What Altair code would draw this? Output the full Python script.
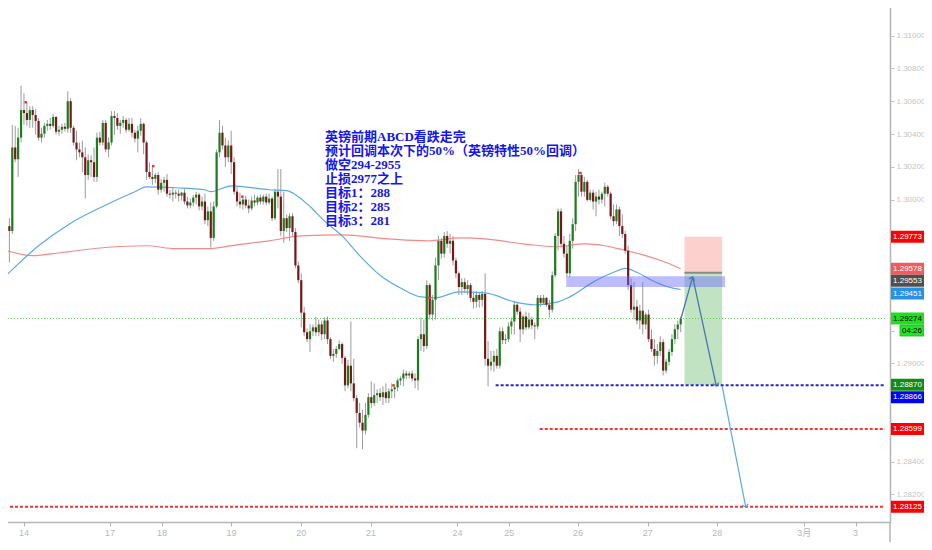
import altair as alt
import pandas as pd

# ---------------- data (GBPUSD, 1h candles) ----------------
opens = [
1.29748,1.29838,1.29808,1.30318,1.30246,1.30378,1.30546,1.30528,1.30486,1.30546,
1.30516,1.30480,1.30378,1.30402,1.30450,1.30462,1.30450,1.30504,1.30414,1.30426,
1.30444,1.30432,1.30600,1.30438,1.30348,1.30306,1.30288,1.30258,1.30150,1.30240,
1.30228,1.30138,1.30378,1.30348,1.30468,1.30306,1.30348,1.30510,1.30498,1.30450,
1.30468,1.30486,1.30426,1.30462,1.30408,1.30372,1.30420,1.30462,1.30348,1.30168,
1.30138,1.30126,1.30150,1.30060,1.30102,1.30120,1.30036,1.30030,1.30042,1.30036,
1.30024,1.30042,1.29988,1.29964,1.29982,1.30012,1.30030,1.29958,1.29988,1.29874,
1.29928,1.29766,1.29958,1.30288,1.30408,1.30330,1.30258,1.30330,1.30228,1.30048,
1.29988,1.29970,1.30000,1.29964,1.29946,1.29994,1.29982,1.30012,1.29988,1.30018,
1.29982,1.30006,1.29886,1.30048,1.30018,1.29808,1.29886,1.29826,1.29898,1.29802,
1.29598,1.29508,1.29310,1.29190,1.29148,1.29196,1.29220,1.29190,1.29238,1.29178,
1.29262,1.29148,1.29046,1.29058,1.29088,1.29118,1.29034,1.28866,1.28986,1.28878,
1.28788,1.28698,1.28638,1.28590,1.28686,1.28794,1.28758,1.28806,1.28818,1.28794,
1.28824,1.28788,1.28830,1.28842,1.28854,1.28896,1.28908,1.28938,1.28926,1.28938,
1.28908,1.28896,1.29148,1.29178,1.29106,1.29478,1.29298,1.29388,1.29598,1.29748,
1.29670,1.29778,1.29730,1.29748,1.29628,1.29550,1.29466,1.29496,1.29454,1.29478,
1.29400,1.29376,1.29418,1.29388,1.29424,1.29028,1.28986,1.29010,1.29046,1.28986,
1.29196,1.29142,1.29148,1.29226,1.29256,1.29358,1.29316,1.29208,1.29286,1.29220,
1.29268,1.29232,1.29226,1.29400,1.29370,1.29400,1.29358,1.29328,1.29538,1.29778,
1.29928,1.29730,1.29670,1.29550,1.29748,1.29850,1.30108,1.30150,1.30048,1.30108,
1.29998,1.30042,1.29988,1.30018,1.30000,1.30036,1.30078,1.30036,1.29898,1.29868,
1.29940,1.29838,1.29790,1.29688,1.29478,1.29328,1.29346,1.29262,1.29322,1.29238,
1.29298,1.29148,1.29088,1.29046,1.29076,1.29130,1.28956,1.29010,1.29070,1.29148,
1.29208,1.29238]

highs = [
1.29898,1.29886,1.30456,1.30450,1.30438,1.30696,1.30648,1.30594,1.30570,1.30570,
1.30552,1.30498,1.30438,1.30468,1.30486,1.30498,1.30522,1.30510,1.30450,1.30462,
1.30468,1.30660,1.30618,1.30450,1.30420,1.30348,1.30360,1.30318,1.30276,1.30270,
1.30318,1.30408,1.30414,1.30486,1.30486,1.30378,1.30540,1.30540,1.30528,1.30486,
1.30510,1.30498,1.30498,1.30498,1.30426,1.30450,1.30498,1.30468,1.30360,1.30228,
1.30198,1.30162,1.30168,1.30126,1.30138,1.30156,1.30060,1.30078,1.30060,1.30060,
1.30048,1.30066,1.30018,1.30006,1.30030,1.30048,1.30042,1.30018,1.30036,1.29958,
1.29982,1.29988,1.30306,1.30486,1.30450,1.30378,1.30360,1.30420,1.30258,1.30078,
1.30042,1.30018,1.30024,1.30000,1.30018,1.30030,1.30024,1.30030,1.30030,1.30036,
1.30036,1.30018,1.30066,1.30186,1.30186,1.30048,1.29910,1.29916,1.29916,1.29826,
1.29622,1.29550,1.29346,1.29214,1.29238,1.29238,1.29286,1.29268,1.29262,1.29280,
1.29286,1.29160,1.29088,1.29106,1.29142,1.29130,1.29046,1.29022,1.29256,1.29028,
1.28806,1.28758,1.28716,1.28758,1.28818,1.28890,1.28878,1.28842,1.28848,1.28860,
1.28878,1.28848,1.28878,1.28866,1.28908,1.28920,1.28962,1.28956,1.28950,1.28956,
1.28938,1.29166,1.29280,1.29268,1.29508,1.29490,1.29418,1.29646,1.29778,1.29766,
1.29802,1.29808,1.29790,1.29778,1.29646,1.29562,1.29520,1.29520,1.29508,1.29490,
1.29430,1.29442,1.29436,1.29442,1.29550,1.29136,1.29076,1.29076,1.29088,1.29220,
1.29220,1.29178,1.29250,1.29280,1.29382,1.29370,1.29340,1.29298,1.29316,1.29310,
1.29286,1.29250,1.29418,1.29418,1.29418,1.29406,1.29388,1.29562,1.29796,1.29946,
1.29946,1.29778,1.29718,1.29790,1.29886,1.30150,1.30186,1.30168,1.30138,1.30120,
1.30060,1.30060,1.30048,1.30060,1.30048,1.30102,1.30090,1.30048,1.29970,1.29970,
1.29958,1.29910,1.29808,1.29718,1.29520,1.29496,1.29388,1.29358,1.29496,1.29310,
1.29328,1.29208,1.29148,1.29118,1.29166,1.29148,1.29028,1.29088,1.29178,1.29238,
1.29262,1.29286]

lows = [
1.29628,1.29616,1.29790,1.30228,1.30138,1.30348,1.30456,1.30450,1.30438,1.30438,
1.30396,1.30360,1.30348,1.30378,1.30420,1.30426,1.30438,1.30396,1.30390,1.30402,
1.30414,1.30408,1.30408,1.30330,1.30240,1.30258,1.30168,1.30006,1.30120,1.30138,
1.30108,1.30108,1.30330,1.30330,1.30288,1.30258,1.30330,1.30396,1.30426,1.30402,
1.30438,1.30408,1.30414,1.30378,1.30348,1.30288,1.30390,1.30276,1.30120,1.30126,
1.30090,1.30102,1.30030,1.30042,1.30048,1.30018,1.30006,1.29988,1.30006,1.29988,
1.29994,1.29970,1.29946,1.29946,1.29958,1.29970,1.29934,1.29934,1.29850,1.29838,
1.29706,1.29748,1.29946,1.30258,1.30306,1.30198,1.30228,1.30156,1.30030,1.29958,
1.29946,1.29940,1.29946,1.29916,1.29934,1.29958,1.29964,1.29970,1.29970,1.29964,
1.29970,1.29868,1.29874,1.29946,1.29778,1.29736,1.29802,1.29748,1.29778,1.29580,
1.29490,1.29220,1.29166,1.29130,1.29070,1.29166,1.29166,1.29166,1.29142,1.29148,
1.29118,1.29028,1.29010,1.29034,1.29082,1.28998,1.28830,1.28848,1.28830,1.28770,
1.28482,1.28608,1.28476,1.28566,1.28668,1.28728,1.28740,1.28758,1.28770,1.28746,
1.28758,1.28758,1.28788,1.28788,1.28830,1.28866,1.28860,1.28902,1.28908,1.28890,
1.28848,1.28836,1.29076,1.29070,1.29088,1.29268,1.29262,1.29268,1.29508,1.29640,
1.29646,1.29706,1.29670,1.29598,1.29520,1.29418,1.29418,1.29430,1.29418,1.29376,
1.29334,1.29340,1.29340,1.29346,1.28986,1.28860,1.28956,1.28950,1.28968,1.28968,
1.29118,1.29118,1.29130,1.29178,1.29178,1.29298,1.29130,1.29178,1.29202,1.29208,
1.29208,1.29148,1.29208,1.29346,1.29358,1.29346,1.29280,1.29310,1.29526,1.29688,
1.29706,1.29646,1.29526,1.29526,1.29700,1.29808,1.30018,1.30018,1.30018,1.29988,
1.29988,1.29940,1.29898,1.29970,1.29976,1.29958,1.30018,1.29880,1.29838,1.29850,
1.29778,1.29766,1.29670,1.29448,1.29310,1.29268,1.29238,1.29208,1.29178,1.29208,
1.29130,1.29070,1.28986,1.28998,1.29046,1.28926,1.28938,1.28986,1.29046,1.29118,
1.29148,1.29190]

closes = [
1.29838,1.29808,1.30318,1.30246,1.30378,1.30546,1.30528,1.30486,1.30546,1.30516,
1.30480,1.30378,1.30402,1.30450,1.30462,1.30450,1.30504,1.30414,1.30426,1.30444,
1.30432,1.30600,1.30438,1.30348,1.30306,1.30288,1.30258,1.30150,1.30240,1.30228,
1.30138,1.30378,1.30348,1.30468,1.30306,1.30348,1.30510,1.30498,1.30450,1.30468,
1.30486,1.30426,1.30462,1.30408,1.30372,1.30420,1.30462,1.30348,1.30168,1.30138,
1.30126,1.30150,1.30060,1.30102,1.30120,1.30036,1.30030,1.30042,1.30036,1.30024,
1.30042,1.29988,1.29964,1.29982,1.30012,1.30030,1.29958,1.29988,1.29874,1.29928,
1.29766,1.29958,1.30288,1.30408,1.30330,1.30258,1.30330,1.30228,1.30048,1.29988,
1.29970,1.30000,1.29964,1.29946,1.29994,1.29982,1.30012,1.29988,1.30018,1.29982,
1.30006,1.29886,1.30048,1.30018,1.29808,1.29886,1.29826,1.29898,1.29802,1.29598,
1.29508,1.29310,1.29190,1.29148,1.29196,1.29220,1.29190,1.29238,1.29178,1.29262,
1.29148,1.29046,1.29058,1.29088,1.29118,1.29034,1.28866,1.28986,1.28878,1.28788,
1.28698,1.28638,1.28590,1.28686,1.28794,1.28758,1.28806,1.28818,1.28794,1.28824,
1.28788,1.28830,1.28842,1.28854,1.28896,1.28908,1.28938,1.28926,1.28938,1.28908,
1.28896,1.29148,1.29178,1.29106,1.29478,1.29298,1.29388,1.29598,1.29748,1.29670,
1.29778,1.29730,1.29748,1.29628,1.29550,1.29466,1.29496,1.29454,1.29478,1.29400,
1.29376,1.29418,1.29388,1.29424,1.29028,1.28986,1.29010,1.29046,1.28986,1.29196,
1.29142,1.29148,1.29226,1.29256,1.29358,1.29316,1.29208,1.29286,1.29220,1.29268,
1.29232,1.29226,1.29400,1.29370,1.29400,1.29358,1.29328,1.29538,1.29778,1.29928,
1.29730,1.29670,1.29550,1.29748,1.29850,1.30108,1.30150,1.30048,1.30108,1.29998,
1.30042,1.29988,1.30018,1.30000,1.30036,1.30078,1.30036,1.29898,1.29868,1.29940,
1.29838,1.29790,1.29688,1.29478,1.29328,1.29346,1.29262,1.29322,1.29238,1.29298,
1.29148,1.29088,1.29046,1.29076,1.29130,1.28956,1.29010,1.29070,1.29148,1.29208,
1.29238,1.29274]

# moving averages (sampled along the bar index)
ma_blue_idx = [0,11,22,33,44,48,58,68,70,77,90,96,99,104,109,115,121,128,135,142,
               147,155,164,174,181,189,193,201,208,212,216,221,227,231]
ma_blue_val = [1.29538,1.29718,1.29856,1.29958,1.30048,1.30078,1.30072,1.30060,1.30048,1.30084,
               1.30060,1.30054,1.30030,1.29958,1.29868,1.29778,1.29658,1.29538,1.29460,1.29406,
               1.29400,1.29436,1.29430,1.29376,1.29358,1.29376,1.29406,1.29496,1.29556,1.29580,
               1.29556,1.29508,1.29466,1.29451]
ma_red_idx = [0,9,16,33,48,58,69,79,90,101,115,131,144,156,164,177,188,198,205,211,219,226,231]
ma_red_val = [1.29688,1.29658,1.29670,1.29706,1.29718,1.29700,1.29700,1.29724,1.29748,1.29778,
              1.29784,1.29760,1.29748,1.29766,1.29760,1.29730,1.29712,1.29730,1.29718,1.29694,
              1.29658,1.29616,1.29578]

# date axis
date_labels = ["14", "17", "18", "19", "20", "21", "24", "25", "26", "27", "28", "3月", "3"]
date_pos = [6, 35.5, 53.3, 77.1, 101, 124.9, 154.5, 172.3, 195.8, 219.7, 243.5, 273.3, 290.9]

# price axis ticks (labels covered by the price tags are left blank)
price_ticks = [1.282, 1.284, 1.286, 1.288, 1.290, 1.292, 1.294, 1.296, 1.298,
               1.300, 1.302, 1.304, 1.306, 1.308, 1.310, 1.312]
hidden_tick_labels = ["1.28600", "1.28800", "1.29200", "1.29400", "1.29600", "1.29800", "1.31200"]

# price tags on the right scale
tag_prices = [1.29773, 1.29578, 1.29553, 1.29451, 1.29274, 1.28870, 1.28866, 1.28599, 1.28125]
tag_texts = ["1.29773", "1.29578", "1.29553", "1.29451", "1.29274", "1.28870", "1.28866", "1.28599", "1.28125"]
tag_bg = ["#ff0000", "#f25b5b", "#4f4f4f", "#2592e6", "#1fe01f", "#128c12", "#0000ff", "#ff0000", "#ff0000"]
tag_fg = ["#ffffff", "#ffffff", "#ffffff", "#ffffff", "#000000", "#ffffff", "#ffffff", "#ffffff", "#ffffff"]
tag_nudge = [0, 0, 8, 4, 0, 0, 12, 0, 0]
timer_text = "04:26"
timer_price = 1.29274

# levels / drawings
current_price = 1.29274
stop_loss = 1.29773
entry = 1.29553
take_profit = 1.28870
blue_level = 1.28866
blue_level_from = 167.6
red_level_1 = 1.28599
red_level_1_from = 182.7
red_level_2 = 1.28125
zone_from, zone_to = 191.8, 246.2
zone_low, zone_high = 1.29466, 1.29532
pos_from, pos_to = 232.3, 245.2

arrow1_idx = [231.1, 235.1, 243.2]
arrow1_val = [1.29274, 1.29528, 1.28862]
arrow2_idx = [245.2, 253.3]
arrow2_val = [1.28862, 1.28122]
head_idx = [235.1, 243.2, 253.3]
head_val = [1.29528, 1.28862, 1.28122]
head_angle = [17, 168, 169]
head_color = ["#4a78b0", "#4a78b0", "#57a8e8"]

marker_idx = [6.6, 50.3, 80.8, 132.6, 145.0, 196.5]
marker_val = [1.30594, 1.30204, 1.30018, 1.28866, 1.29400, 1.30162]

note_lines = ["英镑前期ABCD看跌走完",
              "预计回调本次下的50%（英镑特性50%回调）",
              "做空294-2955",
              "止损2977之上",
              "目标1：288",
              "目标2：285",
              "目标3：281"]

# ---------------- chart ----------------
W, H = 890, 522
X_END = 301
XS = alt.Scale(domain=[-0.5, X_END], nice=False, zero=False)
YS = alt.Scale(domain=[1.28032, 1.31218], nice=False, zero=False)
FONT = "Liberation Sans"
GREY = "#c4c4c4"
AXC = "#b5b5b5"

hidden_js = "[" + ",".join("'%s'" % s for s in hidden_tick_labels) + "]"
AX_X = alt.Axis(values=date_pos, labels=False, ticks=True, tickSize=4,
                tickColor=AXC, domainColor=AXC, domainWidth=1.5, grid=False, title=None)
AX_Y = alt.Axis(orient="right", values=price_ticks, format=".5f", grid=False, title=None,
                labelExpr="indexof(%s, datum.label) >= 0 ? '' : datum.label" % hidden_js,
                labelColor=GREY, labelFont=FONT, labelFontSize=8, tickColor=GREY, tickSize=4,
                labelPadding=2, domainColor=AXC, domainWidth=1.5,
                labelFlush=False, labelOverlap=False)

n = len(closes)
assert len(opens) == len(highs) == len(lows) == n
df = pd.DataFrame({"idx": list(range(n)), "o": opens, "h": highs, "l": lows, "c": closes})
df["dir"] = ["up" if c >= o else "down" for o, c in zip(opens, closes)]

def xq(field):
    return alt.X(field, type="quantitative", scale=XS, axis=AX_X)

def yq(field):
    return alt.Y(field, type="quantitative", scale=YS, axis=AX_Y)

wick = alt.Chart(df).mark_rule(color="#9b9b9b", strokeWidth=1).encode(
    x=xq("idx"), y=yq("l"), y2="h:Q")
body = alt.Chart(df).mark_bar(size=2.2).encode(
    x=xq("idx"), y=yq("o"), y2="c:Q",
    color=alt.Color("dir:N", scale=alt.Scale(domain=["up", "down"], range=["#1c7c1c", "#761818"]),
                    legend=None),
)

ma_blue = alt.Chart(pd.DataFrame({"i": ma_blue_idx, "v": ma_blue_val})).mark_line(
    color="#5aaae8", strokeWidth=1.2, interpolate="monotone").encode(x=xq("i"), y=yq("v"))
ma_red = alt.Chart(pd.DataFrame({"i": ma_red_idx, "v": ma_red_val})).mark_line(
    color="#f28a8a", strokeWidth=1.2, interpolate="monotone").encode(x=xq("i"), y=yq("v"))

def hline(price, x0, color, width, dash):
    d = pd.DataFrame({"p": [price], "a": [x0], "b": [X_END]})
    return alt.Chart(d).mark_rule(color=color, strokeWidth=width, strokeDash=dash).encode(
        x=xq("a"), x2="b:Q", y=yq("p"))

def box(x0, x1, p0, p1, color, opacity):
    d = pd.DataFrame({"a": [x0], "b": [x1], "p": [p0], "q": [p1]})
    return alt.Chart(d).mark_rect(color=color, opacity=opacity).encode(
        x=xq("a"), x2="b:Q", y=yq("p"), y2="q:Q")

cur_line = hline(current_price, -0.5, "#5fd35f", 1, [1, 2])
blue_line = hline(blue_level, blue_level_from, "#2323d8", 2, [3, 2])
red_line1 = hline(red_level_1, red_level_1_from, "#f23535", 2, [3, 2])
red_line2 = hline(red_level_2, -0.5, "#f23535", 2, [3, 2])

tp_box = box(pos_from, pos_to, entry, take_profit, "#4caf50", 0.35)
sl_box = box(pos_from, pos_to, stop_loss, entry, "#f44336", 0.25)
zone = box(zone_from, zone_to, zone_low, zone_high, "#6a6aff", 0.45)
entry_line = alt.Chart(pd.DataFrame({"a": [pos_from], "b": [pos_to], "p": [entry]})).mark_rule(
    color="#8a8a8a", strokeWidth=2).encode(x=xq("a"), x2="b:Q", y=yq("p"))

arrow1 = alt.Chart(pd.DataFrame({"i": arrow1_idx, "v": arrow1_val, "k": range(3)})).mark_line(
    color="#4a78b0", strokeWidth=1.3).encode(x=xq("i"), y=yq("v"), order="k:Q")
arrow2 = alt.Chart(pd.DataFrame({"i": arrow2_idx, "v": arrow2_val, "k": range(2)})).mark_line(
    color="#57a8e8", strokeWidth=1.2).encode(x=xq("i"), y=yq("v"), order="k:Q")
heads = alt.Chart(pd.DataFrame({"i": head_idx, "v": head_val, "ang": head_angle, "col": head_color})).mark_point(
    shape="M-1,1L0,0L1,1", filled=False, size=36, strokeWidth=1.2, opacity=1).encode(
    x=xq("i"), y=yq("v"), angle=alt.Angle("ang:Q", scale=None),
    color=alt.Color("col:N", scale=None))

markers = alt.Chart(pd.DataFrame({"i": marker_idx, "v": marker_val})).mark_point(
    shape="square", filled=True, size=6, color="#f03030", opacity=1).encode(x=xq("i"), y=yq("v"))

note = alt.Chart(pd.DataFrame({"a": [0]})).mark_text(
    align="left", baseline="top", fontSize=13, fontWeight="bold",
    font="Liberation Serif, Noto Sans CJK SC", color="#1515ee", lineHeight=14).encode(
    x=alt.value(325), y=alt.value(131), text=alt.value(note_lines))

dates = alt.Chart(pd.DataFrame({"i": date_pos, "t": date_labels})).mark_text(
    fontSize=9, font="Liberation Sans, Noto Sans CJK SC", color="#b8b8b8",
    baseline="middle", align="center").encode(x=xq("i"), y=alt.value(H + 11), text="t:N")

# right scale line continues below the time axis
scale_tail = alt.Chart(pd.DataFrame({"a": [0]})).mark_rule(color=AXC, strokeWidth=1.5).encode(
    x=alt.value(W), y=alt.value(H), y2=alt.value(H + 30))

tags = pd.DataFrame({"p": tag_prices, "txt": tag_texts, "bg": tag_bg, "fg": tag_fg, "n": tag_nudge})
tag_layers = []
for nd in sorted(set(tag_nudge)):
    sub = tags[tags["n"] == nd]
    tag_layers.append(alt.Chart(sub).mark_rect(yOffset=nd - 6, y2Offset=nd + 6).encode(
        x=alt.value(W + 1), x2=alt.value(W + 34), y=yq("p"), y2="p:Q",
        fill=alt.Fill("bg:N", scale=None)))
    tag_layers.append(alt.Chart(sub).mark_text(
        dy=nd, fontSize=8, font=FONT, align="center", baseline="middle").encode(
        x=alt.value(W + 17.5), y=yq("p"), text="txt:N", color=alt.Color("fg:N", scale=None)))

timer_df = pd.DataFrame({"p": [timer_price], "t": [timer_text]})
timer_box = alt.Chart(timer_df).mark_rect(yOffset=12 - 5.5, y2Offset=12 + 5.5, fill="#27e327",
                                          stroke="#14b814", strokeWidth=0.8).encode(
    x=alt.value(W + 10), x2=alt.value(W + 34), y=yq("p"), y2="p:Q")
timer_txt = alt.Chart(timer_df).mark_text(dy=12, fontSize=8, font=FONT, color="#000000",
                                          align="center", baseline="middle").encode(
    x=alt.value(W + 22), y=yq("p"), text="t:N")

chart = alt.layer(
    wick, cur_line, ma_red, ma_blue, body,
    tp_box, sl_box, zone, entry_line,
    blue_line, red_line1, red_line2,
    arrow1, arrow2, heads, markers, note, dates, scale_tail,
    *tag_layers, timer_box, timer_txt,
).properties(
    width=W, height=H,
    padding={"left": -8, "top": -8, "right": 34, "bottom": 20},
    autosize=alt.AutoSizeParams(type="none"),
    background="#ffffff",
).configure_view(stroke=None)

chart.save("out.html", embed_options={"renderer": "svg", "actions": False})
